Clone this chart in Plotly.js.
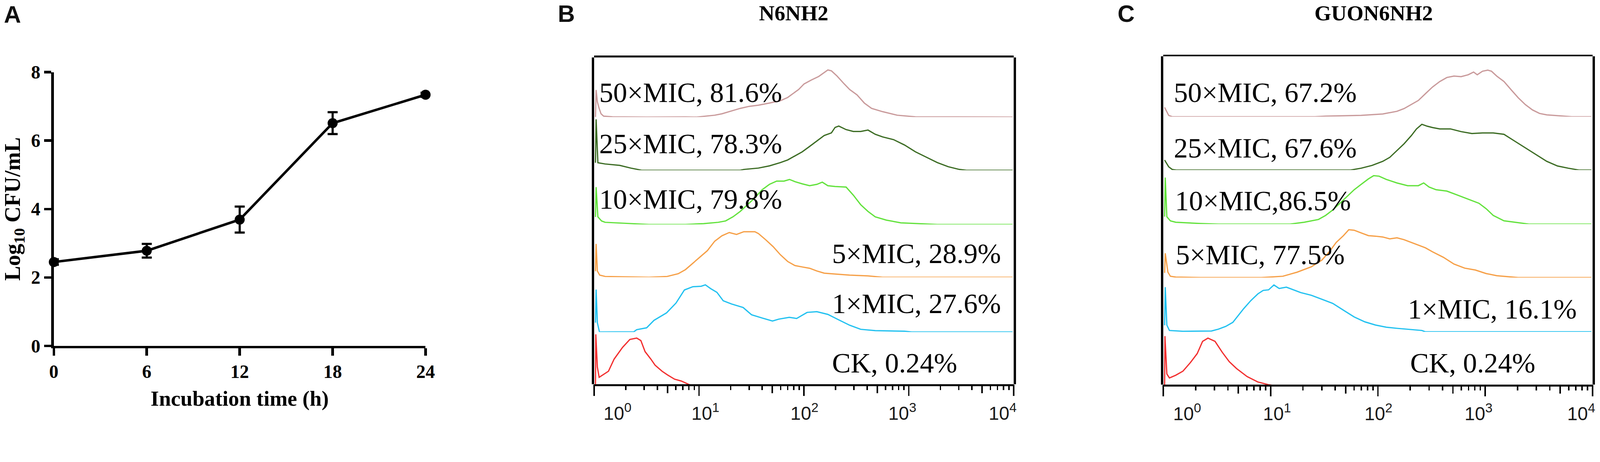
<!DOCTYPE html>
<html>
<head>
<meta charset="utf-8">
<script src="https://cdn.plot.ly/plotly-3.0.1.min.js"></script>
<style>html,body{margin:0;padding:0;background:#fff;overflow:hidden;}</style>
</head>
<body>
<div id="chart"></div>
<script>
// ---------------- Panel A data ----------------
const timeH = [0, 6, 12, 18, 24];
const log10CFU = [2.45, 2.78, 3.69, 6.51, 7.34];
const log10CFU_sd = [0.08, 0.20, 0.38, 0.32, 0.06];
const timeTicks = [0, 6, 12, 18, 24];
const cfuTicks = [0, 2, 4, 6, 8];

// ---------------- Panel B (N6NH2) histograms: log10 fluorescence vs % of mode ----------------
const B_50_logFL = [0.012,0.018,0.03,0.045,0.065,0.09,0.174,0.5,0.87,0.975,1.149,1.218,1.323,1.392,1.479,1.566,1.671,1.775,1.845,1.897,1.949,2.001,2.071,2.141,2.193,2.228,2.262,2.315,2.384,2.436,2.506,2.576,2.645,2.75,2.889,3.063,3.99];
const B_50_pct   = [0,58,33,20,7,2,0.5,0,0.3,0,4,7,14,18.6,23,25.5,30,35,42,50.5,59,71,79.5,87,95,101,99,88,71,59,47.6,30,18.6,11.6,4,0.5,0];
const B_25_logFL = [0.012,0.018,0.035,0.104,0.244,0.348,0.452,1.392,1.427,1.566,1.671,1.775,1.845,1.914,1.984,2.054,2.123,2.193,2.262,2.297,2.332,2.402,2.471,2.541,2.611,2.68,2.75,2.854,2.959,3.063,3.167,3.272,3.376,3.481,3.55,3.99];
const B_25_pct   = [16,109,16,13.4,10.4,4.6,0,0,1.7,4.6,9.3,16.3,22,30.8,39.5,51,62.7,74.3,80,91.7,94.6,87,83,83,86,77,71.4,65.6,54,39.5,27.9,16.3,7.5,1.7,0,0];
const B_10_logFL = [0.012,0.018,0.035,0.07,0.104,0.348,0.522,0.87,1.044,1.183,1.253,1.323,1.392,1.462,1.531,1.601,1.671,1.74,1.81,1.862,1.914,1.984,2.054,2.123,2.175,2.228,2.297,2.402,2.471,2.541,2.611,2.68,2.785,2.924,3.272,3.99];
const B_10_pct   = [16,80,16.3,7.5,4.6,1.7,0,0,1.7,4.6,7.5,16.3,27.9,42.4,56.9,74.3,85.9,92.9,92.9,96.4,91.7,87,83,85.9,90.6,83,81.3,80.1,62.7,42.4,27.9,16.3,9.3,3.5,0,0];
const B_5_logFL  = [0.012,0.018,0.03,0.052,0.104,0.348,0.522,0.696,0.801,0.87,0.975,1.079,1.149,1.218,1.288,1.357,1.427,1.532,1.566,1.636,1.706,1.775,1.845,1.914,1.984,2.054,2.123,2.193,2.262,2.436,2.611,2.75,3.99];
const B_5_pct    = [13,71.4,13.4,4.6,1.7,0.6,0,1.7,7.5,16.3,36.6,56.9,77.2,88.8,95.8,91.7,97.5,97.5,93.5,80.1,65.6,48.2,33.7,25,22,19.2,13.4,8.7,7.5,4.6,2.9,0,0];
const B_1_logFL  = [0.012,0.018,0.03,0.05,0.378,0.405,0.5,0.57,0.69,0.78,0.86,0.94,1.02,1.06,1.11,1.17,1.23,1.31,1.42,1.5,1.6,1.7,1.76,1.86,1.93,2.03,2.123,2.228,2.332,2.436,2.541,2.68,2.959,3.028,3.99];
const B_1_pct    = [20,91,20,0,0.5,5,9,25,41,62,90,97,98,101,93,85,67,60,52.5,37,30,23.6,27.6,31.5,29,42,43.5,37.7,26,14.5,5.8,2.9,1.7,0,0];
const B_CK_logFL = [0.012,0.015,0.03,0.047,0.136,0.19,0.27,0.34,0.405,0.445,0.485,0.54,0.58,0.647,0.70,0.766,0.83,0.91,1.06,1.2,1.37,3.99];
const B_CK_pct   = [0,110,40,17.9,31,57,82,99,102,96.6,73,57,44,31,23,14,10,2,0,null,0,0];

// ---------------- Panel C (GUON6NH2) histograms ----------------
const C_50_logFL = [0.012,0.05,0.083,1.413,1.513,1.845,2.045,2.178,2.244,2.311,2.377,2.443,2.51,2.577,2.643,2.709,2.776,2.842,2.892,2.926,2.975,3.025,3.059,3.108,3.175,3.241,3.308,3.374,3.441,3.507,3.574,3.807,3.99];
const C_50_pct   = [20,2.9,0,0,1.2,2.9,5.8,11.6,17.4,26,34.8,49.3,63.8,75.4,84,87,85.8,89.9,95.7,89.9,97.4,99.7,97.4,87,75.4,58,40.6,26,14.5,7,4,0,0];
const C_25_logFL = [0.012,0.05,0.083,0.12,1.745,1.845,1.945,2.045,2.111,2.178,2.244,2.311,2.36,2.41,2.46,2.51,2.577,2.676,2.776,2.876,2.975,3.075,3.175,3.275,3.374,3.474,3.574,3.674,3.773,3.873,3.99];
const C_25_pct   = [21.4,7,1.2,0,0,4,9.9,18.6,27.2,41.7,56.2,73.6,88.1,98,93.9,91,88.1,88.1,82.3,78.3,79.4,79.4,76.5,62,47.5,33,18.6,8.7,4,0,0];
const C_10_logFL = [0.012,0.018,0.033,0.066,0.116,0.349,0.515,1.18,1.313,1.446,1.513,1.579,1.646,1.712,1.779,1.845,1.912,1.961,2.011,2.078,2.178,2.277,2.377,2.427,2.477,2.543,2.643,2.743,2.842,2.942,3.009,3.075,3.175,3.308,3.408,3.99];
const C_10_pct   = [16,99.7,15.7,7,4,1.2,0,0,4,9.9,18.6,30.1,44.6,59.1,73.6,85.2,96.8,103.8,102.6,95.7,88.1,82.3,82.3,88.1,79.4,73.6,70.7,62,53.3,44.6,33,18.6,7,2.9,0,0];
const C_5_logFL  = [0.012,0.018,0.043,0.066,0.116,0.349,0.914,1.114,1.247,1.38,1.479,1.546,1.612,1.679,1.729,1.779,1.845,1.912,1.978,2.045,2.111,2.178,2.244,2.311,2.377,2.443,2.51,2.61,2.709,2.809,2.909,3.009,3.108,3.308,3.99];
const C_5_pct    = [10,52.2,11.6,2.9,1.2,0,0,2.9,11.6,23.2,37.7,55.1,75.4,89.9,102.6,101.4,95.7,89.9,88.7,87,82.9,85.2,81.2,75.4,69.6,63.8,55.1,43.5,29,20.3,16.2,8.7,4,0,0];
const C_1_logFL  = [0.012,0.018,0.033,0.057,0.183,0.449,0.515,0.582,0.648,0.698,0.748,0.815,0.881,0.931,0.981,1.031,1.08,1.147,1.213,1.28,1.38,1.479,1.579,1.679,1.779,1.878,1.978,2.078,2.178,2.41,2.443,3.99];
const C_1_pct    = [14,95.7,14.5,2.9,1.2,1.7,5.8,11.6,20.3,34.8,49.3,66.7,81.2,88.7,89.9,100.3,92.8,95.7,89.9,84.1,78.3,69.6,60.9,46.4,31.9,21.4,14.5,9.9,7.5,2.9,0,0];
const C_CK_logFL = [0.012,0.015,0.033,0.057,0.116,0.183,0.249,0.316,0.366,0.416,0.482,0.549,0.615,0.682,0.781,0.881,0.981,1.064,1.2,1.37,3.99];
const C_CK_pct   = [0,107,26,17.4,23.2,31.9,49.3,69.6,95.7,102.6,95.7,72.5,52.2,37.7,20.3,8.7,2.9,0,null,0,0];

// ---------------- Labels ----------------
const seriesNames = ['CK', '1×MIC', '5×MIC', '10×MIC', '25×MIC', '50×MIC'];
const B_labels = ['CK, 0.24%', '1×MIC, 27.6%', '5×MIC, 28.9%', '10×MIC, 79.8%', '25×MIC, 78.3%', '50×MIC, 81.6%'];
const C_labels = ['CK, 0.24%', '1×MIC, 16.1%', '5×MIC, 77.5%', '10×MIC,86.5%', '25×MIC, 67.6%', '50×MIC, 67.2%'];
const decadeTickText = ['10<sup>0</sup>', '10<sup>1</sup>', '10<sup>2</sup>', '10<sup>3</sup>', '10<sup>4</sup>'];
const seriesColors = ['#f23030', '#22c1f0', '#f6a048', '#62e23c', '#3c6c24', '#c99a9b'];

// ---------------- Layout helpers (design size 4459 x 1182, scaled to the real viewport) ----------------
const W = 4459, H = 1182;
const vw = window.innerWidth || W, vh = window.innerHeight || H;
const S = Math.min(vw / W, vh / H);
const z = v => v * S;
const fx = p => p / W;
const fy = p => 1 - p / H;
const axName = id => (id[0] === 'x' ? 'xaxis' : 'yaxis') + id.slice(1);
const BAND_PX = 155, PX_PER_PCT = 1.3;
const SERIF = 'Liberation Serif, Times New Roman, serif';
const SANS = 'Liberation Sans, Arial, sans-serif';

const majorVals = [0, 1, 2, 3, 4];
const minorVals = [], fiveVals = [];
for (let n = 0; n < 4; n++) {
  [2, 3, 4, 6, 7, 8, 9].forEach(k => minorVals.push(n + Math.log10(k)));
  fiveVals.push(n + Math.log10(5));
}
const labelPos = [0.222, 1.06, 2.005, 2.938, 3.895];

const panels = [
  { x: 'x2', xo1: 'x3', xo2: 'x4', yf: 'y2', yb: ['y3','y4','y5','y6','y7','y8'],
    left: 1656, right: 2825, top: 160, bottom: 1070,
    baselines: [1074, 924.5, 772, 625, 474, 326],
    data: [[B_CK_logFL,B_CK_pct],[B_1_logFL,B_1_pct],[B_5_logFL,B_5_pct],[B_10_logFL,B_10_pct],[B_25_logFL,B_25_pct],[B_50_logFL,B_50_pct]],
    labels: B_labels,
    labelXY: [[2317,1011],[2317,845],[2317,706],[1668,555],[1668,400],[1668,257]],
    title: 'N6NH2', titleXY: [2212, 36], letter: 'B', letterXY: [1578, 38] },
  { x: 'x5', xo1: 'x6', xo2: 'x7', yf: 'y9', yb: ['y10','y11','y12','y13','y14','y15'],
    left: 3242, right: 4438, top: 157, bottom: 1071,
    baselines: [1075, 924, 773, 624, 473.5, 325],
    data: [[C_CK_logFL,C_CK_pct],[C_1_logFL,C_1_pct],[C_5_logFL,C_5_pct],[C_10_logFL,C_10_pct],[C_25_logFL,C_25_pct],[C_50_logFL,C_50_pct]],
    labels: C_labels,
    labelXY: [[3928,1011],[3921,860],[3275,709],[3272,559],[3269,412],[3269,257]],
    title: 'GUON6NH2', titleXY: [3828, 36], letter: 'C', letterXY: [3138, 38] }
];

const traces = [];
const layout = {
  width: Math.round(W * S), height: Math.round(H * S),
  margin: { l: 0, r: 0, t: 0, b: 0, pad: 0 },
  paper_bgcolor: '#ffffff', plot_bgcolor: 'rgba(0,0,0,0)',
  showlegend: false,
  annotations: []
};

// ---------------- Panel A ----------------
traces.push({
  x: timeH, y: log10CFU, xaxis: 'x', yaxis: 'y',
  type: 'scatter', mode: 'lines+markers', cliponaxis: false,
  line: { color: '#000', width: z(7) },
  marker: { color: '#000', size: z(28) },
  error_y: { type: 'data', array: log10CFU_sd, visible: true, color: '#000', thickness: z(6), width: z(14) }
});
layout.xaxis = {
  domain: [fx(150), fx(1186)], anchor: 'y', range: [0, 24],
  tickvals: timeTicks, ticks: 'outside', ticklen: z(20), tickwidth: z(7), tickcolor: '#000',
  ticklabelstandoff: z(16),
  showline: true, linewidth: z(7), linecolor: '#000', showgrid: false, zeroline: false,
  tickfont: { family: SERIF, size: z(52), color: '#000', weight: 700 },
  title: { text: 'Incubation time (h)', font: { family: SERIF, size: z(60), color: '#000', weight: 700 }, standoff: z(28) }
};
layout.yaxis = {
  domain: [fy(963), fy(201)], anchor: 'x', range: [0, 8],
  tickvals: cfuTicks, ticks: 'outside', ticklen: z(20), tickwidth: z(7), tickcolor: '#000',
  showline: true, linewidth: z(7), linecolor: '#000', showgrid: false, zeroline: false,
  tickfont: { family: SERIF, size: z(52), color: '#000', weight: 700 },
  title: { text: 'Log<sub>10</sub> CFU/mL', font: { family: SERIF, size: z(62), color: '#000', weight: 700 }, standoff: z(20) }
};
layout.annotations.push({ xref: 'paper', yref: 'paper', x: fx(35), y: fy(40), xanchor: 'center', yanchor: 'middle',
  text: '<b>A</b>', showarrow: false, font: { family: SANS, size: z(66), color: '#111' } });

// ---------------- Panels B and C ----------------
panels.forEach(p => {
  const xd = [fx(p.left), fx(p.right)];
  layout[axName(p.x)] = {
    domain: xd, anchor: p.yf, range: [0, 4],
    tickvals: labelPos, ticktext: decadeTickText,
    ticks: 'outside', ticklen: z(32), tickcolor: 'rgba(0,0,0,0)',
    showline: true, mirror: true, linewidth: z(5), linecolor: '#000',
    showgrid: false, zeroline: false,
    tickfont: { family: SANS, size: z(52), color: '#1a1a1a' }
  };
  layout[axName(p.xo1)] = {
    domain: xd, anchor: p.yf, overlaying: p.x, range: [0, 4],
    tickvals: majorVals, ticks: 'outside', ticklen: z(32), tickwidth: z(4), tickcolor: '#000',
    showticklabels: false, showline: false, showgrid: false, zeroline: false,
    minor: { tickmode: 'array', tickvals: minorVals, ticks: 'outside', ticklen: z(15), tickwidth: z(4), tickcolor: '#000', showgrid: false }
  };
  layout[axName(p.xo2)] = {
    domain: xd, anchor: p.yf, overlaying: p.x, range: [0, 4],
    tickvals: fiveVals, ticks: 'outside', ticklen: z(24), tickwidth: z(4), tickcolor: '#000',
    showticklabels: false, showline: false, showgrid: false, zeroline: false
  };
  layout[axName(p.yf)] = {
    domain: [fy(p.bottom), fy(p.top)], anchor: p.x, range: [0, 1],
    showline: true, mirror: true, linewidth: z(7), linecolor: '#000',
    ticks: '', showticklabels: false, showgrid: false, zeroline: false
  };
  traces.push({ x: [], y: [], xaxis: p.xo1, yaxis: p.yf, type: 'scatter', mode: 'lines', hoverinfo: 'skip' });
  traces.push({ x: [], y: [], xaxis: p.xo2, yaxis: p.yf, type: 'scatter', mode: 'lines', hoverinfo: 'skip' });

  p.yb.forEach((yid, i) => {
    const base = p.baselines[i];
    layout[axName(yid)] = {
      domain: [fy(base), fy(base - BAND_PX)], anchor: p.x,
      range: [0, BAND_PX / PX_PER_PCT], visible: false, showgrid: false, zeroline: false
    };
    traces.push({
      x: p.data[i][0], y: p.data[i][1], xaxis: p.x, yaxis: yid,
      type: 'scatter', mode: 'lines', name: seriesNames[i], connectgaps: false,
      line: { color: seriesColors[i], width: z(3.5) }
    });
    layout.annotations.push({
      xref: 'paper', yref: 'paper', x: fx(p.labelXY[i][0]), y: fy(p.labelXY[i][1]),
      xanchor: 'left', yanchor: 'middle', text: p.labels[i], showarrow: false,
      font: { family: SERIF, size: z(78), color: '#000' }
    });
  });
  layout.annotations.push({ xref: 'paper', yref: 'paper', x: fx(p.titleXY[0]), y: fy(p.titleXY[1]),
    xanchor: 'center', yanchor: 'middle', text: '<b>' + p.title + '</b>', showarrow: false,
    font: { family: SERIF, size: z(60), color: '#000' } });
  layout.annotations.push({ xref: 'paper', yref: 'paper', x: fx(p.letterXY[0]), y: fy(p.letterXY[1]),
    xanchor: 'center', yanchor: 'middle', text: '<b>' + p.letter + '</b>', showarrow: false,
    font: { family: SANS, size: z(66), color: '#111' } });
});

Plotly.newPlot('chart', traces, layout, { staticPlot: true, displayModeBar: false });
</script>
</body>
</html>
